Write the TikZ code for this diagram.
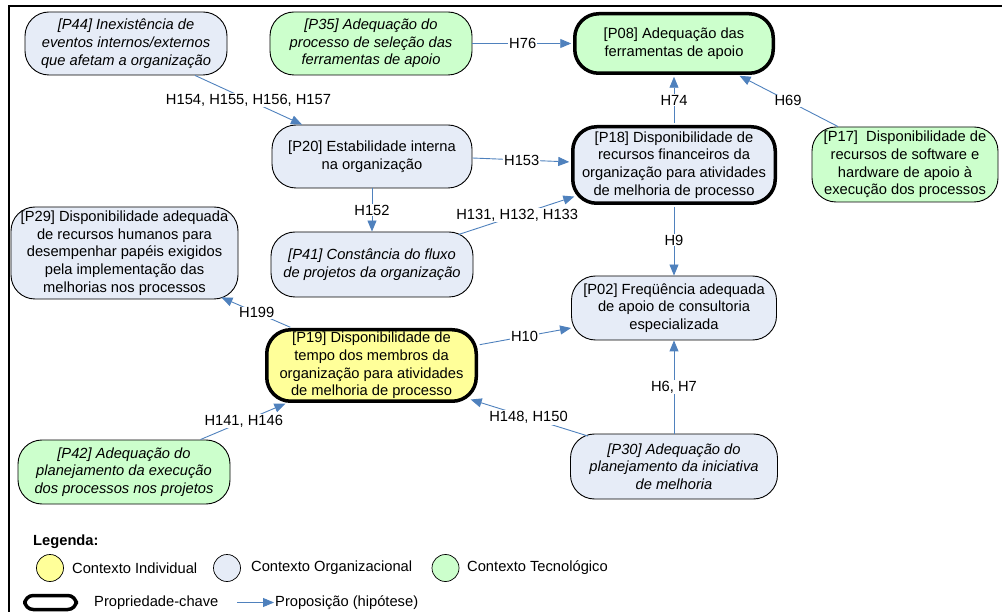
\documentclass[tikz,border=0pt]{standalone}
\usepackage{fontspec}
\setmainfont{Liberation Sans}
\usetikzlibrary{arrows.meta}
\definecolor{orgfill}{HTML}{E6ECF7}
\definecolor{techfill}{HTML}{CCFFCC}
\definecolor{indfill}{HTML}{FFFF99}
\definecolor{linkblue}{HTML}{4F81BD}
\begin{document}
\begin{tikzpicture}[x=1pt,y=-1pt,
  font=\fontsize{14.7}{17.7}\selectfont,
  prop/.style={draw=black, line width=0.9pt, rounded corners=24pt, align=center, inner sep=0pt},
  keyprop/.style={prop, line width=3.5pt},
  org/.style={fill=orgfill},
  tech/.style={fill=techfill},
  ind/.style={fill=indfill},
  link/.style={draw=linkblue, line width=0.9pt, -{Triangle[length=11pt,width=9pt]}},
  fromkey/.style={shorten <=1.75pt},
  tokey/.style={shorten >=1.75pt},
  hyp/.style={fill=white, inner sep=1pt, text=black},
  legtext/.style={anchor=west, inner sep=0pt},
  legdot/.style={circle, draw=black, line width=0.7pt, minimum size=27pt, inner sep=0pt}
]
\useasboundingbox (0,0) rectangle (1002,612);

% frame
\draw[line width=2.5pt] (1002,6) -- (9,6) -- (9,612);

% propositions
\node[prop, org, minimum width=202pt, minimum height=63pt] (p44) at (126,43.5)
  {\itshape [P44] Inexistência de\\\itshape eventos internos/externos\\\itshape que afetam a organização};
\node[prop, tech, minimum width=202pt, minimum height=63pt] (p35) at (371,43.5)
  {\itshape [P35] Adequação do\\\itshape processo de seleção das\\\itshape ferramentas de apoio};
\node[keyprop, tech, minimum width=198.5pt, minimum height=59.5pt] (p08) at (674,43.5)
  {[P08] Adequação das\\ferramentas de apoio};
\node[prop, tech, minimum width=186pt, minimum height=75pt] (p17) at (905,164.5)
  {[P17]\ \ Disponibilidade de\\recursos de software e\\hardware de apoio à\\execução dos processos};
\node[prop, org, minimum width=200pt, minimum height=63pt] (p20) at (372,156.5)
  {[P20] Estabilidade interna\\na organização};
\node[keyprop, org, minimum width=202.5pt, minimum height=76.5pt] (p18) at (674,165)
  {[P18] Disponibilidade de\\recursos financeiros da\\organização para atividades\\de melhoria de processo};
\node[prop, org, minimum width=227pt, minimum height=92pt] (p29) at (124.5,253)
  {[P29] Disponibilidade adequada\\de recursos humanos para\\desempenhar papéis exigidos\\pela implementação das\\melhorias nos processos};
\node[prop, org, minimum width=202pt, minimum height=65pt] (p41) at (372,264.5)
  {\itshape [P41] Constância do fluxo\\\itshape de projetos da organização};
\node[prop, org, minimum width=205pt, minimum height=64pt] (p02) at (674,308)
  {[P02] Freqüência adequada\\de apoio de consultoria\\especializada};
\node[keyprop, ind, minimum width=209.5pt, minimum height=71.5pt] (p19) at (371.5,365.5)
  {[P19] Disponibilidade de\\tempo dos membros da\\organização para atividades\\de melhoria de processo};
\node[prop, tech, minimum width=212pt, minimum height=64pt] (p42) at (124,472)
  {\itshape [P42] Adequação do\\\itshape planejamento da execução\\\itshape dos processos nos projetos};
\node[prop, org, minimum width=207pt, minimum height=65pt] (p30) at (674,466.5)
  {\itshape [P30] Adequação do\\\itshape planejamento da iniciativa\\\itshape de melhoria};

% hypotheses
\draw[link] ([xshift=69pt]p44.south) -- ([xshift=-70pt]p20.north)
  node[hyp, midway] {H154, H155, H156, H157};
\draw[link, tokey] (p35.east) -- (p08.west) node[hyp, midway] {H76};
\draw[link, fromkey, tokey] (p18.north) -- (p08.south) node[hyp, midway] {H74};
\draw[link, tokey] ([xshift=-67pt]p17.north) -- ([xshift=64pt]p08.south)
  node[hyp, midway] {H69};
\draw[link, tokey] ([yshift=-1.5pt]p20.east) -- ([yshift=3pt]p18.west)
  node[hyp, midway] {H153};
\draw[link] (p20.south) -- (p41.north) node[hyp, midway] {H152};
\draw[link, tokey] ([xshift=-15pt,yshift=-3pt]p41.north east) -- ([xshift=5pt,yshift=9pt]p18.south west)
  node[hyp, midway] {H131, H132, H133};
\draw[link, fromkey] (p18.south) -- (p02.north) node[hyp, midway] {H9};
\draw[link, fromkey] ([yshift=20.5pt]p19.east) -- ([yshift=-20pt]p02.west)
  node[hyp, midway] {H10};
\draw[link] (p30.north) -- (p02.south) node[hyp, midway] {H6, H7};
\draw[link, tokey] ([xshift=18pt,yshift=-2.5pt]p30.north west) -- ([xshift=-9pt,yshift=4pt]p19.south east)
  node[hyp, midway] {H148, H150};
\draw[link, fromkey] ([xshift=27pt]p19.north west) -- ([xshift=-17pt,yshift=2pt]p29.south east)
  node[hyp, midway] {H199};
\draw[link, tokey] ([xshift=-30pt]p42.north east) -- ([xshift=22pt]p19.south west)
  node[hyp, midway] {H141, H146};

% legend
\node[legtext, font=\fontsize{14.7}{17.7}\selectfont\bfseries] (leg) at (33,542) {Legenda:};
\node[legdot, fill=indfill] (dot-ind) at (50,568) {};
\node[legtext] (txt-ind) at (72,568) {Contexto Individual};
\node[legdot, fill=orgfill] (dot-org) at (227,568) {};
\node[legtext] (txt-org) at (251,568) {Contexto Organizacional};
\node[legdot, fill=techfill] (dot-tech) at (445.5,568) {};
\node[legtext] (txt-tech) at (467,568) {Contexto Tecnológico};
\node[draw=black, line width=3.5pt, rounded corners=8.5pt, minimum width=51.5pt, minimum height=14pt, inner sep=0pt]
  (key-box) at (50.5,602.5) {};
\node[legtext] (txt-key) at (94,602.5) {Propriedade-chave};
\coordinate (arr-a) at (237,602.5);
\coordinate (arr-b) at (274,602.5);
\draw[link] (arr-a) -- (arr-b);
\node[legtext] (txt-arr) at (275,602.5) {Proposição (hipótese)};
\end{tikzpicture}
\end{document}
